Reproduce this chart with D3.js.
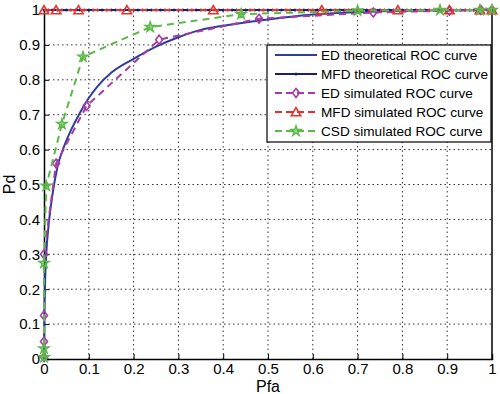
<!DOCTYPE html>
<html>
<head>
<meta charset="utf-8">
<script src="https://cdn.jsdelivr.net/npm/d3@7"></script>
<style>
  body { margin: 0; background: #fff; }
  text { font-family: "Liberation Sans", Arial, sans-serif; fill: #000; }
</style>
</head>
<body>
<div id="chart"></div>
<script>
// ---- data ----
const edTheoPfa = [0, 0.0005, 0.002, 0.005, 0.01, 0.02, 0.03, 0.045, 0.06, 0.08, 0.1, 0.12, 0.15, 0.2, 0.25, 0.3, 0.35, 0.4, 0.5, 0.6, 0.7, 0.8, 0.9, 1];
const edTheoPd  = [0, 0.1, 0.2, 0.3, 0.38, 0.48, 0.55, 0.61, 0.655, 0.705, 0.748, 0.782, 0.82, 0.86, 0.895, 0.922, 0.943, 0.955, 0.973, 0.987, 0.994, 0.998, 0.999, 1];

const mfdTheoPfa = [0,0.01,0.02,0.03,0.04,0.05,0.06,0.07,0.08,0.09,0.1,0.11,0.12,0.13,0.14,0.15,0.16,0.17,0.18,0.19,
  0.2,0.21,0.22,0.23,0.24,0.25,0.26,0.27,0.28,0.29,0.3,0.31,0.32,0.33,0.34,0.35,0.36,0.37,0.38,0.39,
  0.4,0.41,0.42,0.43,0.44,0.45,0.46,0.47,0.48,0.49,0.5,0.51,0.52,0.53,0.54,0.55,0.56,0.57,0.58,0.59,
  0.6,0.61,0.62,0.63,0.64,0.65,0.66,0.67,0.68,0.69,0.7,0.71,0.72,0.73,0.74,0.75,0.76,0.77,0.78,0.79,
  0.8,0.81,0.82,0.83,0.84,0.85,0.86,0.87,0.88,0.89,0.9,0.91,0.92,0.93,0.94,0.95,0.96,0.97,0.98,0.99,1];
const mfdTheoPd = mfdTheoPfa.map(() => 1);

const edSimPfa = [0, 0, 0, 0, 0.027, 0.095, 0.257, 0.48, 0.735, 0.905, 0.975, 1];
const edSimPd  = [0.005, 0.05, 0.125, 0.3, 0.56, 0.725, 0.915, 0.975, 0.993, 0.998, 1, 1];

const mfdSimPfa = [0, 0.027, 0.077, 0.185, 0.378, 0.62, 0.79, 0.905, 0.973, 1];
const mfdSimPd  = [1, 1, 1, 1, 1, 1, 1, 1, 1, 1];

const csdSimPfa = [0, 0, 0, 0.005, 0.04, 0.087, 0.237, 0.44, 0.7, 0.884, 0.973, 1];
const csdSimPd  = [0.005, 0.03, 0.275, 0.496, 0.673, 0.866, 0.951, 0.988, 0.998, 1, 1, 1];

const xTicks = [0, 0.1, 0.2, 0.3, 0.4, 0.5, 0.6, 0.7, 0.8, 0.9, 1];
const yTicks = [0, 0.1, 0.2, 0.3, 0.4, 0.5, 0.6, 0.7, 0.8, 0.9, 1];

const zip = (xs, ys) => xs.map((x, i) => ({x: x, y: ys[i]}));

const series = [
  {name: "ED theoretical ROC curve",  data: zip(edTheoPfa, edTheoPd),   color: "#2f3d9c", dash: null,  marker: null,   smooth: true},
  {name: "MFD theoretical ROC curve", data: zip(mfdTheoPfa, mfdTheoPd), color: "#1d1f6e", dash: null,  marker: "dot"},
  {name: "ED simulated ROC curve",    data: zip(edSimPfa, edSimPd),     color: "#a83aa6", dash: "7,5", marker: "diamond"},
  {name: "MFD simulated ROC curve",   data: zip(mfdSimPfa, mfdSimPd),   color: "#e8302a", dash: "7,5", marker: "triangle"},
  {name: "CSD simulated ROC curve",   data: zip(csdSimPfa, csdSimPd),   color: "#5cb848", dash: "7,5", marker: "star"}
];

// ---- layout ----
const W = 500, H = 394;
const margin = {top: 10, right: 8, bottom: 35, left: 44};

const svg = d3.select("#chart").append("svg")
  .attr("width", W)
  .attr("height", H);

const x = d3.scaleLinear().domain([0, 1]).range([margin.left, W - margin.right]);
const y = d3.scaleLinear().domain([0, 1]).range([H - margin.bottom, margin.top]);

// grid
const grid = svg.append("g").attr("class", "grid");
grid.selectAll(".gx").data(xTicks.slice(1, -1)).enter().append("line")
  .attr("x1", d => x(d)).attr("x2", d => x(d))
  .attr("y1", y(0)).attr("y2", y(1))
  .attr("stroke", "#333").attr("stroke-width", 1).attr("stroke-dasharray", "1.5,3");
grid.selectAll(".gy").data(yTicks.slice(1, -1)).enter().append("line")
  .attr("y1", d => y(d)).attr("y2", d => y(d))
  .attr("x1", x(0)).attr("x2", x(1))
  .attr("stroke", "#333").attr("stroke-width", 1).attr("stroke-dasharray", "1.5,3");

// axes
const xAxis = svg.append("g")
  .attr("transform", `translate(0,${y(0)})`)
  .call(d3.axisBottom(x).tickValues(xTicks).tickFormat(d3.format("")).tickSize(-5).tickPadding(4));
const yAxis = svg.append("g")
  .attr("transform", `translate(${x(0)},0)`)
  .call(d3.axisLeft(y).tickValues(yTicks).tickFormat(d3.format("")).tickSize(-5).tickPadding(4));
[xAxis, yAxis].forEach(a => {
  a.select(".domain").attr("stroke", "#000").attr("stroke-width", 1.5);
  a.selectAll(".tick line").attr("stroke", "#000");
  a.selectAll(".tick text").attr("font-size", 15).style("font-family", "Liberation Sans, Arial, sans-serif");
});

// top / right box lines
svg.append("line").attr("x1", x(0)).attr("x2", x(1)).attr("y1", y(1)).attr("y2", y(1)).attr("stroke", "#000").attr("stroke-width", 1.5);
svg.append("line").attr("x1", x(1)).attr("x2", x(1)).attr("y1", y(0)).attr("y2", y(1)).attr("stroke", "#000").attr("stroke-width", 1.5);

// axis labels
svg.append("text").attr("x", (x(0) + x(1)) / 2).attr("y", 392)
  .attr("text-anchor", "middle").attr("font-size", 16).text("Pfa");
svg.append("text").attr("transform", `translate(15,${(y(0) + y(1)) / 2}) rotate(-90)`)
  .attr("text-anchor", "middle").attr("font-size", 16).text("Pd");

// markers
const star = d3.symbol().type(d3.symbolStar).size(32);
const tri = d3.symbol().type(d3.symbolTriangle).size(38);
function drawMarker(g, kind, color, px, py) {
  if (kind === "dot") {
    g.append("circle").attr("cx", px).attr("cy", py).attr("r", 1.5).attr("fill", color);
  } else if (kind === "diamond") {
    g.append("path").attr("d", `M${px},${py - 4.5}L${px + 3.5},${py}L${px},${py + 4.5}L${px - 3.5},${py}Z`)
      .attr("fill", "none").attr("stroke", color).attr("stroke-width", 1.6);
  } else if (kind === "triangle") {
    g.append("path").attr("d", tri()).attr("transform", `translate(${px},${py + 1})`)
      .attr("fill", "none").attr("stroke", color).attr("stroke-width", 1.6);
  } else if (kind === "star") {
    g.append("path").attr("d", star()).attr("transform", `translate(${px},${py})`)
      .attr("fill", color).attr("fill-opacity", 0.6).attr("stroke", color).attr("stroke-width", 1.4);
  }
}

const line = d3.line().x(d => x(d.x)).y(d => y(d.y));
const smoothLine = d3.line().x(d => x(d.x)).y(d => y(d.y)).curve(d3.curveMonotoneX);
const plot = svg.append("g");
series.forEach(s => {
  plot.append("path").datum(s.data)
    .attr("d", s.smooth ? smoothLine : line)
    .attr("fill", "none")
    .attr("stroke", s.color)
    .attr("stroke-width", 2)
    .attr("stroke-dasharray", s.dash);
  if (s.marker) {
    const mg = plot.append("g");
    s.data.forEach(d => drawMarker(mg, s.marker, s.color, x(d.x), y(d.y)));
  }
});

// legend
const lg = svg.append("g");
lg.append("rect").attr("x", 267).attr("y", 45).attr("width", 224).attr("height", 97)
  .attr("fill", "#fff").attr("stroke", "#000").attr("stroke-width", 1.2);
series.forEach((s, i) => {
  const ly = 55 + i * 19;
  lg.append("line").attr("x1", 275).attr("x2", 317).attr("y1", ly).attr("y2", ly)
    .attr("stroke", s.color).attr("stroke-width", 2)
    .attr("stroke-dasharray", s.dash ? "7,4" : null);
  if (s.marker) drawMarker(lg, s.marker, s.color, 296, ly);
  lg.append("text").attr("x", 321).attr("y", ly + 5).attr("font-size", 13.6).text(s.name);
});
</script>
</body>
</html>
